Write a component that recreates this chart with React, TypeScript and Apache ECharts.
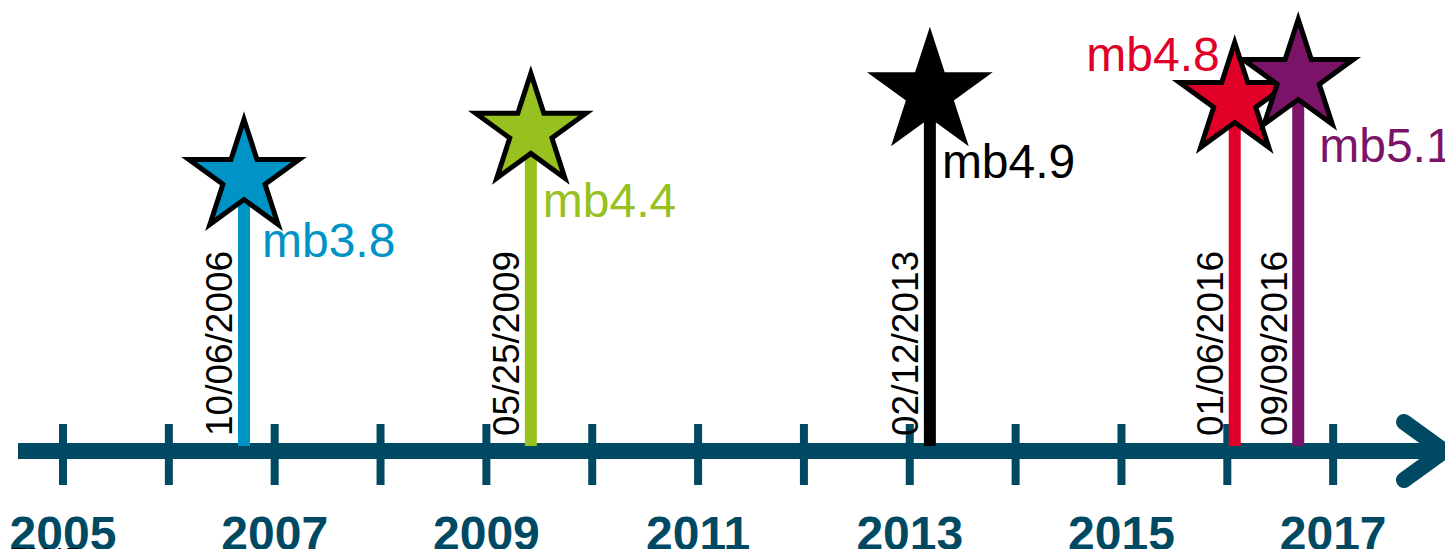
import React, { useEffect, useRef } from "react";
import * as echarts from "echarts";

// ---- data ----
const EVENT_DATES = ["10/06/2006", "05/25/2009", "02/12/2013", "01/06/2016", "09/09/2016"];
const EVENT_POSITIONS = [2006.71, 2009.42, 2013.19, 2016.07, 2016.67];
const MAGNITUDES = [3.8, 4.4, 4.9, 4.8, 5.1];
const TICK_YEARS = [2005, 2006, 2007, 2008, 2009, 2010, 2011, 2012, 2013, 2014, 2015, 2016, 2017];
const YEAR_LABELS = ["2005", "2007", "2009", "2011", "2013", "2015", "2017"];
const FOOTNOTE = "nT2017";

// ---- styles ----
const AXIS_COLOR = "#004963";
const EVENT_COLORS = ["#0093C6", "#97C11E", "#000000", "#E00028", "#7B1468"];
// label offsets relative to the star centre: [dx, baseline dy, side]
const LABEL_LAYOUT: [number, number, "left" | "right"][] = [
  [21, 80, "right"],
  [15, 86, "right"],
  [15, 85, "right"],
  [-17, -29, "left"],
  [24, 85, "right"],
];
const FONT = "'Liberation Sans', Arial, Helvetica, sans-serif";
const BASE_VALUE = 0.3;

function starPoints(cx: number, cy: number, R: number): number[][] {
  const r = R * 0.382;
  const pts: number[][] = [];
  for (let i = 0; i < 10; i++) {
    const ang = -Math.PI / 2 + (i * Math.PI) / 5;
    const rad = i % 2 === 0 ? R : r;
    pts.push([cx + rad * Math.cos(ang), cy + rad * Math.sin(ang)]);
  }
  return pts;
}

export default function App() {
  const ref = useRef<HTMLDivElement>(null);
  useEffect(() => {
    if (!ref.current) return;
    const chart = echarts.init(ref.current, undefined, { renderer: "svg" });
    const eventData = EVENT_POSITIONS.map((x, i) => [x, MAGNITUDES[i], i]);
    const option: any = {
      animation: false,
      grid: { left: 63, right: 14, top: 8, bottom: 106 },
      xAxis: {
        type: "value",
        min: 2005,
        max: 2018,
        interval: 1,
        axisLine: { show: false },
        axisTick: { show: false },
        splitLine: { show: false },
        axisLabel: {
          margin: 86,
          verticalAlign: "middle",
          color: AXIS_COLOR,
          fontSize: 48,
          fontWeight: "bold",
          fontFamily: FONT,
          formatter: (v: number) => (YEAR_LABELS.includes(String(v)) ? String(v) : ""),
        },
      },
      yAxis: {
        type: "value",
        min: BASE_VALUE,
        max: 6.0,
        show: false,
        splitLine: { show: false },
      },
      graphic: [
        {
          type: "rect",
          z: 1,
          shape: { x: 18, y: 443, width: 1425, height: 16 },
          style: { fill: AXIS_COLOR },
        },
        {
          type: "polyline",
          z: 1,
          shape: { points: [[1404, 422], [1444, 451], [1404, 480]] },
          style: { stroke: AXIS_COLOR, lineWidth: 16, lineCap: "round", lineJoin: "round", fill: null },
        },
        {
          type: "text",
          z: 10,
          x: -2,
          y: 556,
          style: {
            text: FOOTNOTE,
            fill: "#000",
            font: `24px ${FONT}`,
            align: "left",
            verticalAlign: "middle",
          },
        },
      ],
      series: [
        {
          type: "custom",
          z: 2,
          data: TICK_YEARS.map((y) => [y, BASE_VALUE]),
          renderItem: (params: any, api: any) => {
            const p = api.coord([api.value(0), api.value(1)]);
            return {
              type: "rect",
              shape: { x: p[0] - 4, y: p[1] - 23, width: 8, height: 61 },
              style: { fill: AXIS_COLOR },
            };
          },
        },
        {
          type: "custom",
          z: 3,
          data: eventData,
          renderItem: (params: any, api: any) => {
            const i = api.value(2);
            const color = EVENT_COLORS[i];
            const base = api.coord([api.value(0), BASE_VALUE]);
            const top = api.coord([api.value(0), api.value(1)]);
            const [dx, dy, side] = LABEL_LAYOUT[i];
            const baseline = top[1] + dy;
            const magText = "mb" + MAGNITUDES[i].toFixed(1);
            return {
              type: "group",
              children: [
                {
                  type: "rect",
                  shape: { x: top[0] - 6, y: top[1], width: 12, height: base[1] - top[1] - 1 },
                  style: { fill: color },
                },
                {
                  type: "polygon",
                  shape: { points: starPoints(top[0], top[1], 58) },
                  style: { fill: color, stroke: "#000", lineWidth: 5, lineJoin: "miter" },
                },
                {
                  type: "text",
                  x: top[0] - 24,
                  y: base[1] - 11,
                  rotation: Math.PI / 2,
                  style: {
                    text: EVENT_DATES[i],
                    fill: "#000",
                    font: `37px ${FONT}`,
                    align: "left",
                    verticalAlign: "middle",
                  },
                },
                {
                  type: "text",
                  x: side === "right" ? top[0] + dx - 3 : top[0] + dx + 2,
                  y: baseline - 16.6,
                  style: {
                    text: magText,
                    fill: color,
                    font: `48px ${FONT}`,
                    align: side === "right" ? "left" : "right",
                    verticalAlign: "middle",
                  },
                },
              ],
            };
          },
        },
      ],
    };
    chart.setOption(option);
    return () => chart.dispose();
  }, []);
  return <div ref={ref} style={{ width: 1453, height: 557, margin: -8 }} />;
}
